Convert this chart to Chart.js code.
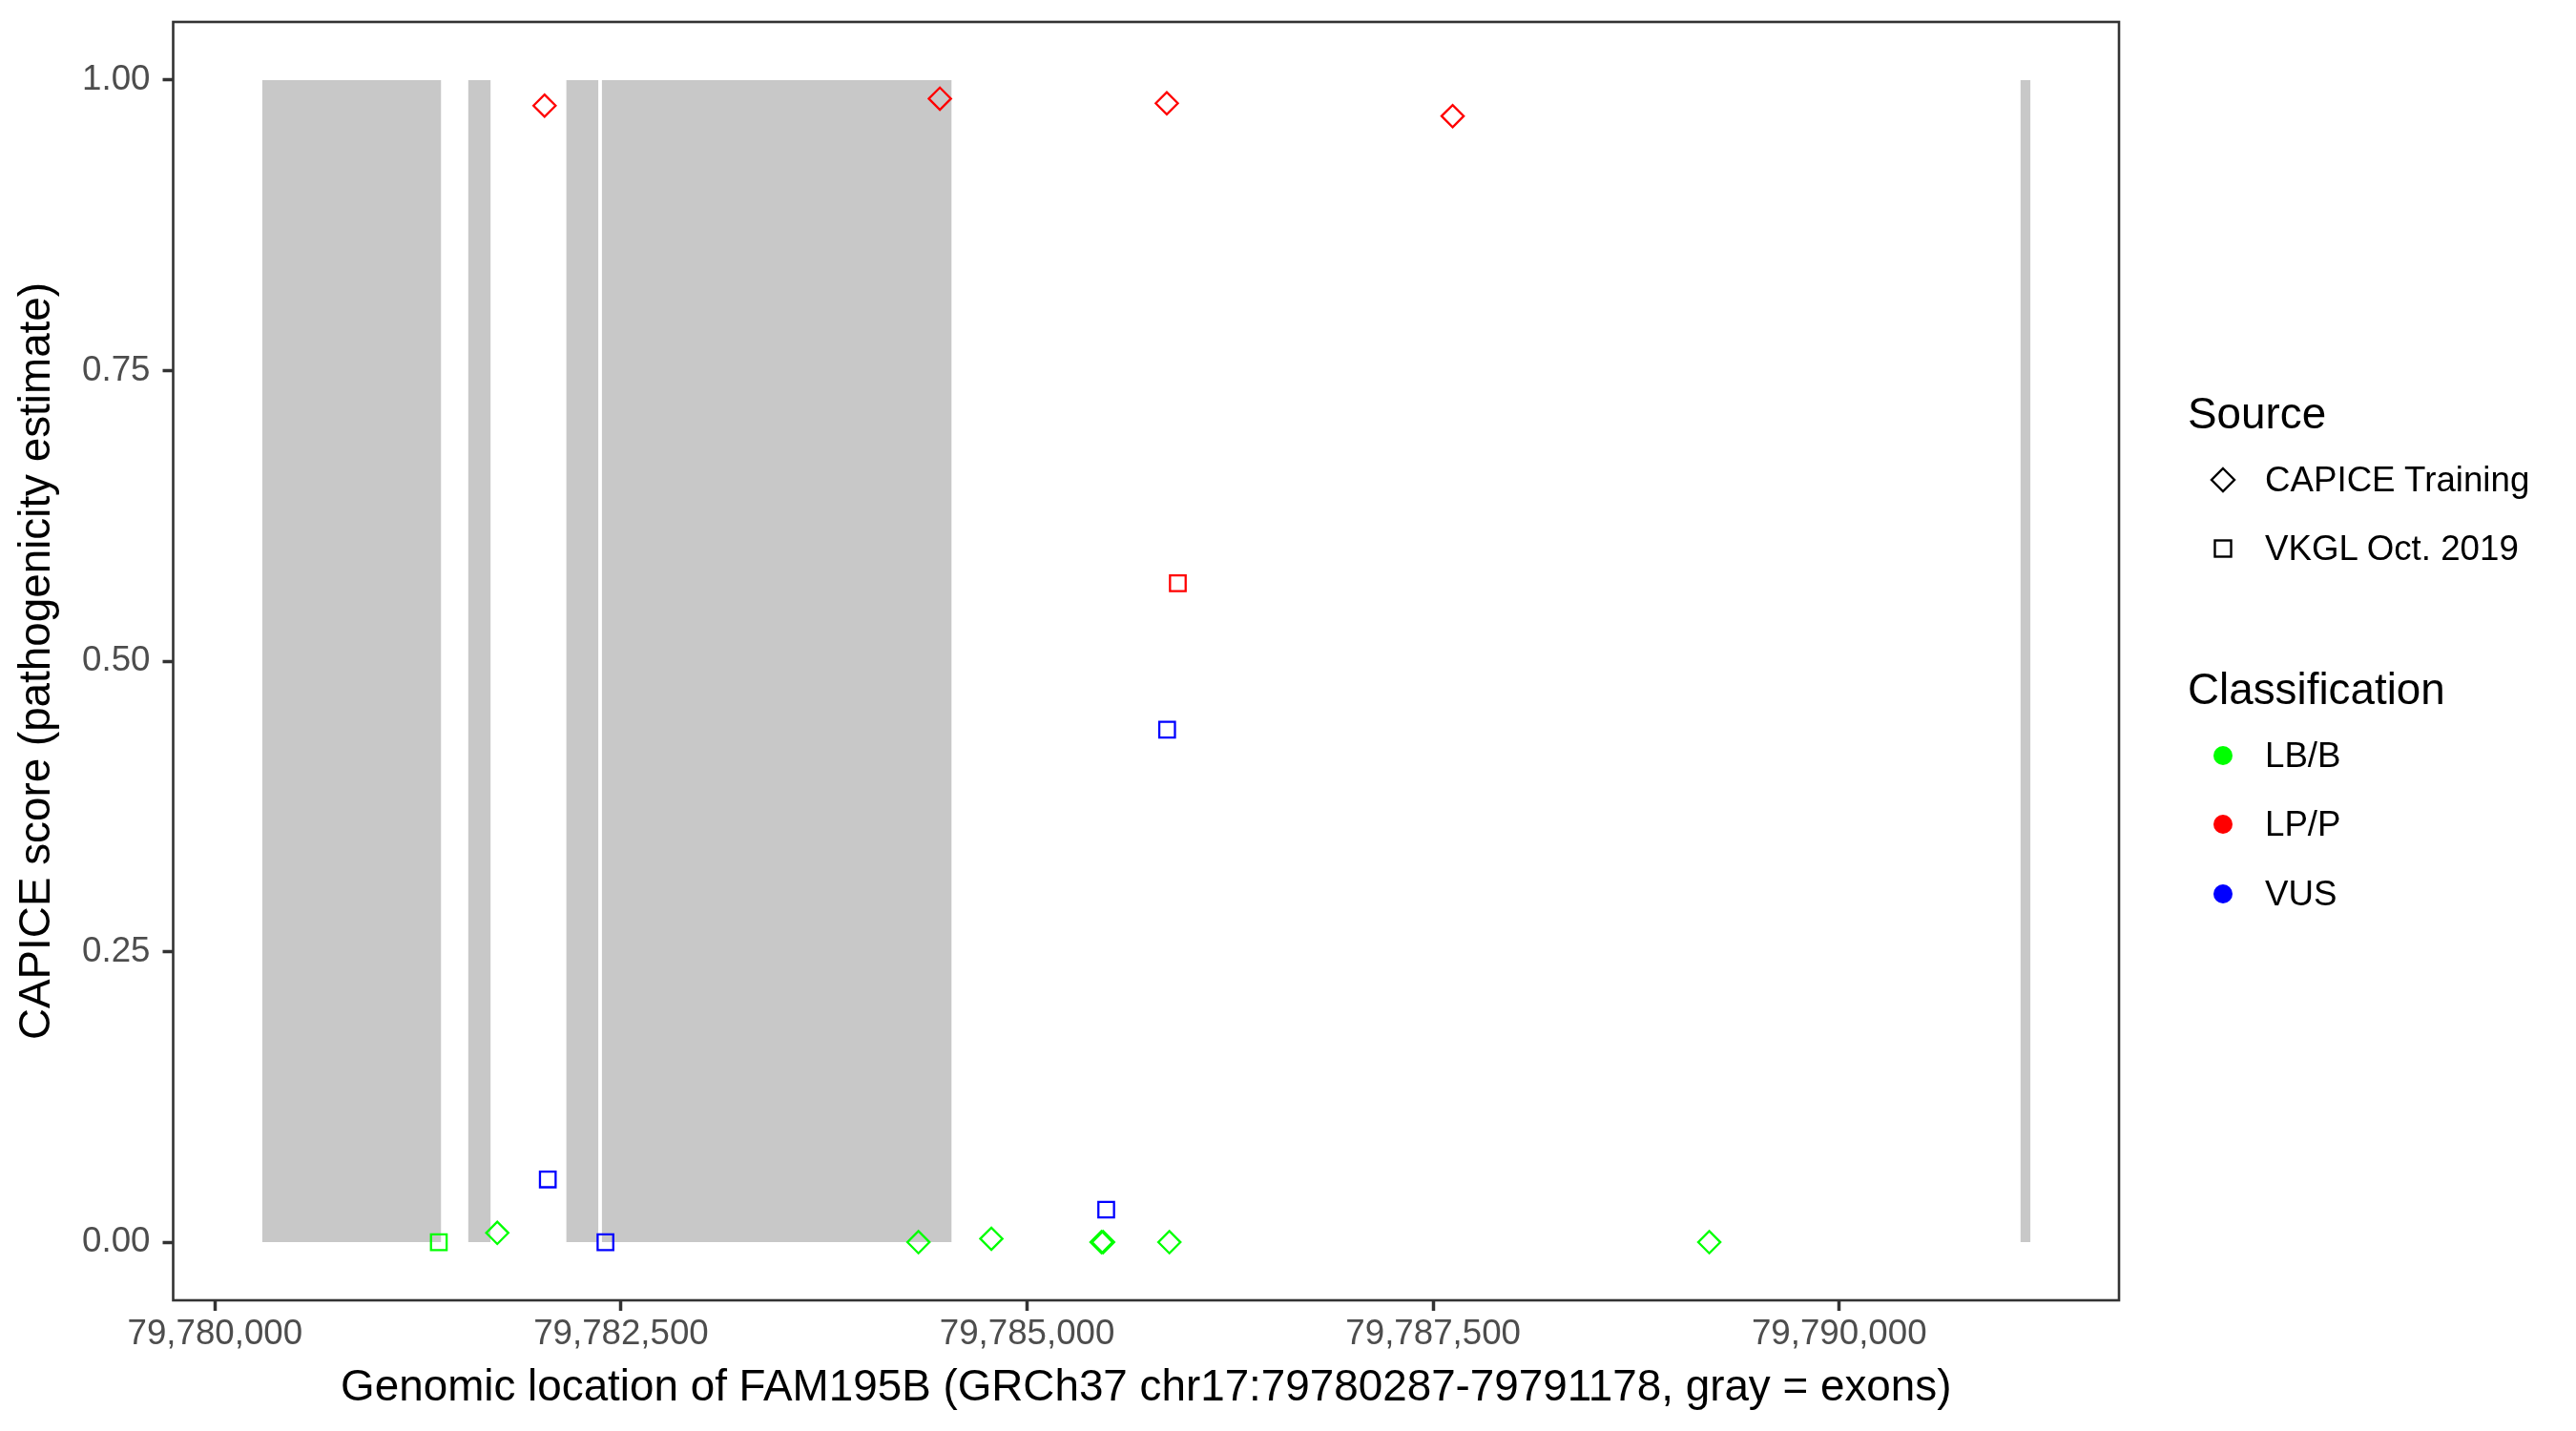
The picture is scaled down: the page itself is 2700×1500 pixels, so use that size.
<!DOCTYPE html>
<html>
<head>
<meta charset="utf-8">
<script src="https://cdn.jsdelivr.net/npm/chart.js@4/dist/chart.umd.min.js"></script>
<style>
  body { margin: 0; background: #fff; }
  #wrap { position: relative; width: 2700px; height: 1500px; font-family: "Liberation Sans", Arial, sans-serif; }
  #chart { position: absolute; left: 0; top: 0; }
  .leg-title { position: absolute; font-size: 45.8px; color: #000; line-height: 1; transform: translateY(-50%); }
  .leg-item { position: absolute; font-size: 36.7px; color: #000; line-height: 1; transform: translateY(-50%); }
  .leg-key { position: absolute; transform: translate(-50%, -50%); }
</style>
</head>
<body>
<div id="wrap">
  <canvas id="chart" width="2700" height="1500"></canvas>

  <div class="leg-title" style="left:2293px; top:434px;">Source</div>
  <svg class="leg-key" style="left:2330px; top:503px;" width="30" height="30"><polygon points="15,3 27,15 15,27 3,15" fill="none" stroke="#000" stroke-width="2.4"/></svg>
  <div class="leg-item" style="left:2374px; top:503px;">CAPICE Training</div>
  <svg class="leg-key" style="left:2330px; top:575px;" width="30" height="30"><rect x="6.5" y="6.5" width="17" height="17" fill="none" stroke="#000" stroke-width="2.4"/></svg>
  <div class="leg-item" style="left:2374px; top:575px;">VKGL Oct. 2019</div>

  <div class="leg-title" style="left:2293px; top:723px;">Classification</div>
  <svg class="leg-key" style="left:2330px; top:792px;" width="30" height="30"><circle cx="15" cy="15" r="10" fill="#00ff00"/></svg>
  <div class="leg-item" style="left:2374px; top:792px;">LB/B</div>
  <svg class="leg-key" style="left:2330px; top:864px;" width="30" height="30"><circle cx="15" cy="15" r="10" fill="#ff0000"/></svg>
  <div class="leg-item" style="left:2374px; top:864px;">LP/P</div>
  <svg class="leg-key" style="left:2330px; top:937px;" width="30" height="30"><circle cx="15" cy="15" r="10" fill="#0000ff"/></svg>
  <div class="leg-item" style="left:2374px; top:937px;">VUS</div>
</div>

<script>
// gene FAM195B, GRCh37 chr17
const geneStart = 79780287;
const geneEnd = 79791178;

// exons (gray bands)
const exonStart = [79780290, 79781558, 79782162, 79782381, 79791115];
const exonEnd   = [79781393, 79781698, 79782361, 79784536, 79791178];

// CAPICE training variants (diamonds)
const capiceBenignPos   = [79781738, 79784331, 79784780, 79785458, 79785468, 79785876, 79789200];
const capiceBenignScore = [0.008, 0.000, 0.003, 0.000, 0.000, 0.000, 0.000];
const capicePathoPos    = [79782029, 79784463, 79785860, 79787620];
const capicePathoScore  = [0.978, 0.984, 0.980, 0.969];

// VKGL Oct. 2019 variants (squares)
const vkglBenignPos   = [79781378];
const vkglBenignScore = [0.000];
const vkglPathoPos    = [79785928];
const vkglPathoScore  = [0.567];
const vkglVusPos      = [79782049, 79782404, 79785487, 79785862];
const vkglVusScore    = [0.054, 0.000, 0.028, 0.441];

const xTicks = [79780000, 79782500, 79785000, 79787500, 79790000];
const yTicks = [0, 0.25, 0.5, 0.75, 1];

const GREEN = "#00ff00", RED = "#ff0000", BLUE = "#0000ff";

function pts(xs, ys) {
  return xs.map((x, i) => ({ x: x, y: ys[i] }));
}

function pointSet(label, xs, ys, color, style) {
  return {
    type: "scatter",
    label: label,
    data: pts(xs, ys),
    pointStyle: style,
    pointRadius: 11.6,
    pointHoverRadius: 11.6,
    pointBorderWidth: 2.3,
    borderColor: color,
    backgroundColor: "rgba(0,0,0,0)",
    order: 0
  };
}

const exonSets = exonStart.map((s, i) => ({
  type: "line",
  label: "exon " + (i + 1),
  data: [{ x: s, y: 1 }, { x: exonEnd[i], y: 1 }],
  showLine: true,
  fill: { value: 0 },
  backgroundColor: "#c8c8c8",
  borderWidth: 0,
  pointRadius: 0,
  pointHoverRadius: 0,
  order: 10
}));

// ggplot style 5% expansion
const span = geneEnd - geneStart;
const xMin = geneStart - 0.05 * span;
const xMax = geneEnd + 0.05 * span;

const panelBorder = {
  id: "panelBorder",
  afterDraw(chart) {
    const { ctx, chartArea: a } = chart;
    ctx.save();
    ctx.strokeStyle = "#333333";
    ctx.lineWidth = 2.6;
    ctx.strokeRect(a.left, a.top, a.right - a.left, a.bottom - a.top);
    ctx.restore();
  }
};

Chart.defaults.font.family = '"Liberation Sans", Arial, sans-serif';

new Chart(document.getElementById("chart"), {
  type: "scatter",
  data: {
    datasets: [
      ...exonSets,
      pointSet("CAPICE LB/B", capiceBenignPos, capiceBenignScore, GREEN, "rectRot"),
      pointSet("CAPICE LP/P", capicePathoPos, capicePathoScore, RED, "rectRot"),
      pointSet("VKGL LB/B", vkglBenignPos, vkglBenignScore, GREEN, "rect"),
      pointSet("VKGL LP/P", vkglPathoPos, vkglPathoScore, RED, "rect"),
      pointSet("VKGL VUS", vkglVusPos, vkglVusScore, BLUE, "rect")
    ]
  },
  options: {
    responsive: false,
    animation: false,
    devicePixelRatio: 1,
    layout: { padding: { top: 23, right: 479, left: 0, bottom: 0 } },
    plugins: { legend: { display: false }, tooltip: { enabled: false } },
    scales: {
      x: {
        type: "linear",
        min: xMin,
        max: xMax,
        afterBuildTicks: axis => { axis.ticks = xTicks.map(v => ({ value: v })); },
        afterFit: axis => { axis.height = 137; axis.paddingLeft = 0; axis.paddingRight = 0; },
        grid: { drawOnChartArea: false, drawTicks: true, tickLength: 11, tickWidth: 3.5, tickColor: "#333333" },
        border: { display: false },
        ticks: {
          color: "#4d4d4d",
          font: { size: 36.7 },
          padding: 3,
          maxRotation: 0,
          callback: v => v.toLocaleString("en-US")
        },
        title: {
          display: true,
          text: "Genomic location of FAM195B (GRCh37 chr17:79780287-79791178, gray = exons)",
          color: "#000",
          font: { size: 45.8 },
          padding: { top: 0, bottom: 17 }
        }
      },
      y: {
        min: -0.05,
        max: 1.05,
        afterBuildTicks: axis => { axis.ticks = yTicks.map(v => ({ value: v })); },
        afterFit: axis => { axis.width = 181.5; axis.paddingTop = 0; axis.paddingBottom = 0; },
        grid: { drawOnChartArea: false, drawTicks: true, tickLength: 11, tickWidth: 3.5, tickColor: "#333333" },
        border: { display: false },
        ticks: {
          color: "#4d4d4d",
          font: { size: 36.7 },
          padding: 13,
          callback: v => v.toFixed(2)
        },
        title: {
          display: true,
          text: "CAPICE score (pathogenicity estimate)",
          color: "#000",
          font: { size: 45.8 },
          padding: { top: 12, bottom: 0 }
        }
      }
    }
  },
  plugins: [panelBorder]
});
</script>
</body>
</html>
